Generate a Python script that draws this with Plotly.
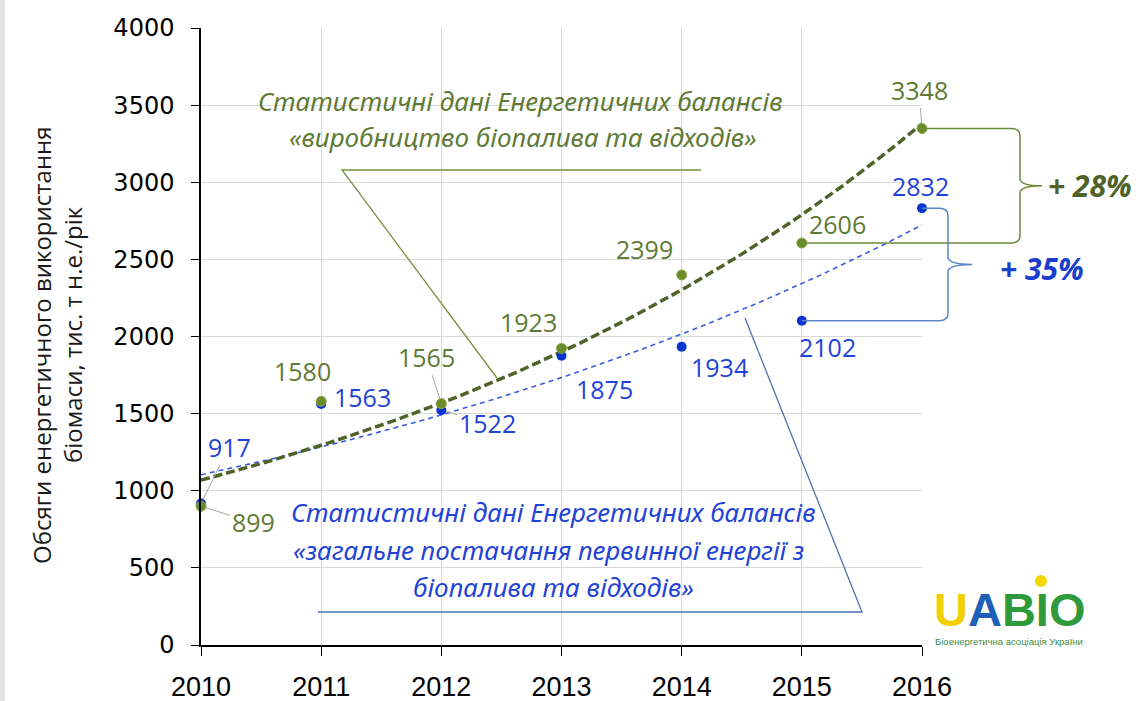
import numpy as np
import plotly.graph_objects as go

# ---------------- data ----------------
years = [2010, 2011, 2012, 2013, 2014, 2015, 2016]
production = [899, 1580, 1565, 1923, 2399, 2606, 3348]      # виробництво біопалива та відходів
supply = [917, 1563, 1522, 1875, 1934, 2102, 2832]          # загальне постачання первинної енергії
y_ticks = [0, 500, 1000, 1500, 2000, 2500, 3000, 3500, 4000]
x_ticks = years

# label offsets (pixels) for data labels
green_off = [(52, 16), (-19, -30), (-15, -47), (-33, -26), (-37, -26), (36, -19), (-3, -39)]
green_leader = [True, False, True, False, False, False, True]
blue_off = [(28, -57), (41, -7), (46, 13), (43, 33), (38, 20), (26, 26), (-2, -22)]
blue_leader = [True, False, True, False, False, False, False]

GREEN = "#5f7a35"
GREEN_DARK = "#4f6228"
GREEN_PT = "#6b8c2a"
GREEN_LINE = "#76923c"
BLUE = "#1f43d6"
BLUE_PT = "#0a36d0"
BLUE_LINE = "#4a72b0"

# ---------------- layout geometry ----------------
W, H = 1142, 701
L, R, T, B = 201, 220, 28, 56
PW, PH = W - L - R, H - T - B
X0, X1 = 2010, 2016
Y0, Y1 = 0, 4000


def px(x):
    return (x - L) / PW


def py(y):
    return (H - B - y) / PH


def dx(year):
    return (year - X0) / (X1 - X0)


def dy(val):
    return (val - Y0) / (Y1 - Y0)


# exponential trendlines (least squares on log values, as Excel does)
xs = np.array(years, dtype=float)
xf = np.linspace(X0, X1, 121)


def expfit(vals):
    b, a = np.polyfit(xs - X0, np.log(np.array(vals, dtype=float)), 1)
    return np.exp(a + b * (xf - X0))


fig = go.Figure()
fig.add_trace(go.Scatter(x=xf, y=expfit(supply), mode="lines",
                         line=dict(color="#3a5de0", width=1.6, dash="5px,4px"),
                         hoverinfo="skip", showlegend=False))
fig.add_trace(go.Scatter(x=xf, y=expfit(production), mode="lines",
                         line=dict(color=GREEN_DARK, width=3.5, dash="9px,4px"),
                         hoverinfo="skip", showlegend=False))
fig.add_trace(go.Scatter(x=years, y=supply, mode="markers",
                         marker=dict(color=BLUE_PT, size=10), showlegend=False, cliponaxis=False))
fig.add_trace(go.Scatter(x=years, y=production, mode="markers",
                         marker=dict(color=GREEN_PT, size=10, line=dict(color="#8aa84a", width=1)),
                         showlegend=False, cliponaxis=False))

annotations = []
LABEL_FONT = dict(family="Open Sans, Liberation Sans, sans-serif", size=25)


def add_labels(vals, offs, leaders, color):
    for yr, v, (ox, oy), ld in zip(years, vals, offs, leaders):
        if ld:
            annotations.append(dict(x=yr, y=v, xref="x", yref="y", text=str(v),
                                    showarrow=True, arrowhead=0, arrowwidth=1,
                                    arrowcolor="#a6a6a6", ax=ox, ay=oy, standoff=5,
                                    xanchor="center", yanchor="middle",
                                    font=dict(color=color, **LABEL_FONT)))
        else:
            annotations.append(dict(x=yr, y=v, xref="x", yref="y", text=str(v),
                                    showarrow=False, xshift=ox, yshift=-oy,
                                    xanchor="center", yanchor="middle",
                                    font=dict(color=color, **LABEL_FONT)))


add_labels(production, green_off, green_leader, GREEN)
add_labels(supply, blue_off, blue_leader, BLUE)


def ptext(x, y, text, font, xanchor="center", angle=0):
    annotations.append(dict(xref="paper", yref="paper", x=px(x), y=py(y), text=text,
                            showarrow=False, xanchor=xanchor, yanchor="middle",
                            textangle=angle, font=font))


CALLOUT_FONT = "Noto Sans, Open Sans, sans-serif"
gfont = dict(family=CALLOUT_FONT, size=26, color=GREEN)
bfont = dict(family=CALLOUT_FONT, size=26, color=BLUE)
ptext(520, 101, "<i>Статистичні дані Енергетичних балансів</i>", gfont)
ptext(523, 137, "<i>«виробництво біопалива та відходів»</i>", gfont)
ptext(553, 512, "<i>Статистичні дані Енергетичних балансів</i>", bfont)
ptext(548, 550, "<i>«загальне постачання первинної енергії з</i>", bfont)
ptext(553, 587, "<i>біопалива та відходів»</i>", bfont)

annotations.append(dict(xref="paper", yref="paper", x=px(1046), y=dy((production[-1] + production[-2]) / 2),
                        xanchor="left", yanchor="middle", text="<b><i>+ 28%</i></b>", showarrow=False,
                        font=dict(family=CALLOUT_FONT, size=30, color=GREEN_DARK)))
annotations.append(dict(xref="paper", yref="paper", x=px(998), y=dy((supply[-1] + supply[-2]) / 2) - 0.006,
                        xanchor="left", yanchor="middle", text="<b><i>+ 35%</i></b>", showarrow=False,
                        font=dict(family=CALLOUT_FONT, size=30, color="#1a3fcc")))

# y-axis title (two lines)
tfont = dict(family="Open Sans, sans-serif", size=24, color="#1a1a1a")
ptext(41, 345, "Обсяги енергетичного використання", tfont, angle=-90)
ptext(72, 335, "біомаси, тис. т н.е./рік", tfont, angle=-90)

# logo (text approximation)
ptext(1009, 609, "<b><span style='color:#f2cf00'>U</span><span style='color:#1f5fb8'>A</span>"
                 "<span style='color:#2f9a3c'>BIO</span></b>",
      dict(family="Liberation Sans, Arial, sans-serif", size=47))
ptext(1009, 641, "Біоенергетична асоціація України",
      dict(family="Liberation Sans Narrow, Liberation Sans, sans-serif", size=9.5, color="#3d8b3d"))

shapes = []
# green callout lines
shapes.append(dict(type="path", xref="paper", yref="paper",
                   path=f"M {px(701)},{py(170)} L {px(342)},{py(170)} L {px(497)},{py(378)}",
                   line=dict(color=GREEN_LINE, width=1.3)))
# blue callout lines
shapes.append(dict(type="path", xref="paper", yref="paper",
                   path=f"M {px(318)},{py(612)} L {px(862)},{py(612)} L {px(745)},{py(318)}",
                   line=dict(color=BLUE_LINE, width=1.3)))


def brace(x_start_top, top, x_start_bot, bot, xb, xt, color):
    r = 0.012
    rx = 0.012
    mid = (top + bot) / 2
    p = (f"M {x_start_top},{top} L {xb - rx},{top} Q {xb},{top} {xb},{top - r} "
         f"L {xb},{mid + r} Q {xb},{mid} {xt},{mid} Q {xb},{mid} {xb},{mid - r} "
         f"L {xb},{bot + r} Q {xb},{bot} {xb - rx},{bot} L {x_start_bot},{bot}")
    return dict(type="path", xref="paper", yref="paper", path=p, line=dict(color=color, width=1.5))


shapes.append(brace(dx(years[-1]), dy(production[-1]), dx(years[-2]), dy(production[-2]),
                    px(1020), px(1042), "#6e8a3e"))
shapes.append(brace(dx(years[-1]), dy(supply[-1]), dx(years[-2]), dy(supply[-2]),
                    px(948), px(972), "#5b87c8"))
# small yellow dot above the logo's I
shapes.append(dict(type="circle", xref="paper", yref="paper",
                   x0=px(1035), x1=px(1047), y0=py(587), y1=py(575),
                   fillcolor="#f2d600", line=dict(width=0)))
# left border strip
shapes.append(dict(type="rect", xref="paper", yref="paper", x0=px(0), x1=px(5), y0=py(701), y1=py(0),
                   fillcolor="#e3e3e3", line=dict(width=0), layer="below"))

fig.update_layout(
    width=W, height=H,
    margin=dict(l=L, r=R, t=T, b=B, autoexpand=False),
    paper_bgcolor="white", plot_bgcolor="white",
    showlegend=False,
    annotations=annotations,
    shapes=shapes,
    xaxis=dict(range=[X0, X1], tickvals=x_ticks, ticktext=[str(v) for v in x_ticks],
               showgrid=True, gridcolor="#d9d9d9", gridwidth=1, automargin=False,
               showline=True, linecolor="black", linewidth=1.5,
               ticks="outside", ticklen=9, tickcolor="black", ticklabelstandoff=8,
               tickfont=dict(family="Liberation Sans, Arial, sans-serif", size=27, color="black"),
               zeroline=False, fixedrange=True),
    yaxis=dict(range=[Y0, Y1], tickvals=y_ticks, automargin=False,
               showgrid=True, gridcolor="#d9d9d9", gridwidth=1,
               showline=True, linecolor="black", linewidth=1.5,
               ticks="outside", ticklen=8, tickcolor="black", ticklabelstandoff=12,
               tickfont=dict(family="DejaVu Sans, sans-serif", size=24, color="black"),
               zeroline=False, fixedrange=True),
)

fig.write_html("out.html", config={"displayModeBar": False},
               post_script="document.body.style.margin='0';")
